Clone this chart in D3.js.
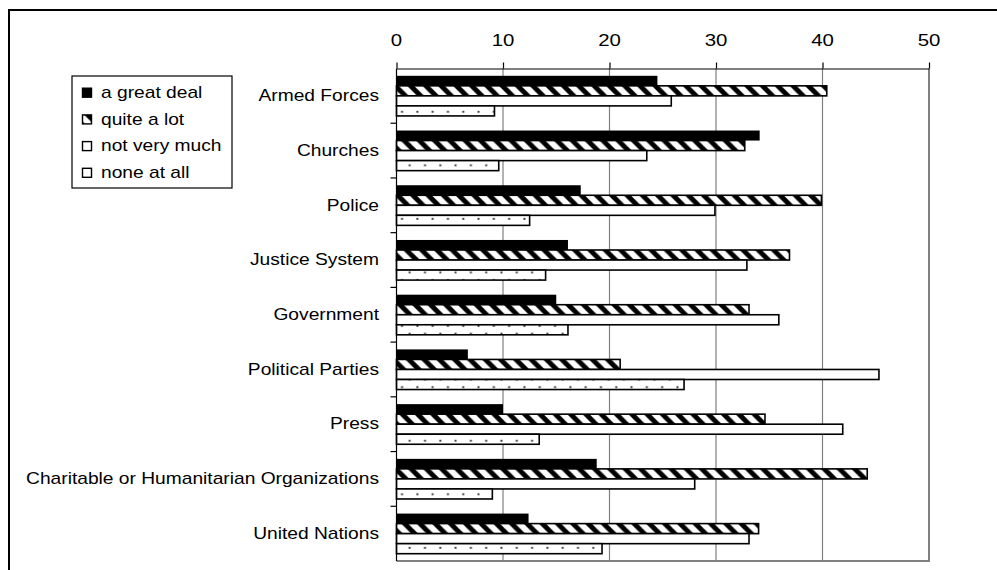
<!DOCTYPE html>
<html>
<head>
<meta charset="utf-8">
<script src="https://cdn.jsdelivr.net/npm/d3@7/dist/d3.min.js"></script>
<style>
  html, body { margin: 0; padding: 0; background: #fff; }
  svg { display: block; }
  text { font-family: Arial, "Liberation Sans", Helvetica, sans-serif; fill: #000; }
</style>
</head>
<body>
<svg id="chart" width="997" height="570"></svg>
<script>
const categories = ["Armed Forces", "Churches", "Police", "Justice System", "Government",
  "Political Parties", "Press", "Charitable or Humanitarian Organizations", "United Nations"];
const seriesNames = ["a great deal", "quite a lot", "not very much", "none at all"];
const greatDeal   = [24.5, 34.1, 17.3, 16.1, 15.0, 6.7, 10.0, 18.8, 12.4];
const quiteALot   = [40.4, 32.7, 39.9, 36.9, 33.1, 21.0, 34.6, 44.2, 34.0];
const notVeryMuch = [25.8, 23.5, 29.9, 32.9, 35.9, 45.3, 41.9, 28.0, 33.1];
const noneAtAll   = [9.2, 9.6, 12.5, 14.0, 16.1, 27.0, 13.4, 9.0, 19.3];
const tickValues  = [0, 10, 20, 30, 40, 50];

(function () {
const seriesValues = [greatDeal, quiteALot, notVeryMuch, noneAtAll];
const fills = ["#000", "url(#hatch)", "#fff", "url(#dots)"];

const svg = d3.select("#chart");
const TX = 1.2; // horizontal text stretch

// patterns
const defs = svg.append("defs");
const P = 15.3, W = 7;
const hatch = defs.append("pattern").attr("id", "hatch")
  .attr("patternUnits", "userSpaceOnUse").attr("width", P).attr("height", P);
hatch.append("rect").attr("width", P).attr("height", P).attr("fill", "#fff");
hatch.append("polygon").attr("points", `0,0 ${W},0 ${P},${P - W} ${P},${P}`).attr("fill", "#000");
hatch.append("polygon").attr("points", `0,${P - W} 0,${P} ${W},${P}`).attr("fill", "#000");

const dots = defs.append("pattern").attr("id", "dots")
  .attr("patternUnits", "userSpaceOnUse").attr("width", P).attr("height", P);
dots.append("rect").attr("width", P).attr("height", P).attr("fill", "#fff");
dots.append("rect").attr("x", 3.3).attr("y", 3.7).attr("width", 1.9).attr("height", 1.9).attr("fill", "#333");
dots.append("rect").attr("x", 3.3 + P / 2).attr("y", 3.7 + P / 2).attr("width", 1.9).attr("height", 1.9).attr("fill", "#333");

// outer frame
svg.append("rect").attr("x", 9).attr("y", 10).attr("width", 1100).attr("height", 700)
  .attr("fill", "none").attr("stroke", "#000").attr("stroke-width", 2);

// scales
const pLeft = 396.5, pRight = 929, pTop = 68.5, pBottom = 561;
const x = d3.scaleLinear().domain([0, 50]).range([pLeft, pRight]);
const y = d3.scaleBand().domain(categories).range([pTop, pBottom]);
const pad = 7.3;
const ys = d3.scaleBand().domain(seriesNames).range([pad, y.bandwidth() - pad]);

// gridlines
svg.append("g").selectAll("line").data(tickValues.slice(1)).join("line")
  .attr("x1", d => x(d)).attr("x2", d => x(d))
  .attr("y1", pTop).attr("y2", pBottom)
  .attr("stroke", "#808080").attr("stroke-width", d => d === 50 ? 2 : 1.2);
// bottom border
svg.append("line").attr("x1", pLeft).attr("x2", pRight + 1).attr("y1", pBottom).attr("y2", pBottom)
  .attr("stroke", "#808080").attr("stroke-width", 2);

// bars
const rows = [];
categories.forEach((c, i) => seriesValues.forEach((arr, s) => rows.push({ c, s, v: arr[i] })));
svg.append("g").selectAll("rect").data(rows).join("rect")
  .attr("x", x(0))
  .attr("y", d => y(d.c) + ys(seriesNames[d.s]))
  .attr("width", d => x(d.v) - x(0))
  .attr("height", ys.bandwidth())
  .attr("fill", d => fills[d.s])
  .attr("stroke", "#000")
  .attr("stroke-width", d => d.s === 0 ? 0 : 1.6);

// top axis
const axis = svg.append("g").attr("transform", `translate(0,${pTop})`)
  .call(d3.axisTop(x).tickValues(tickValues).tickSize(6).tickSizeOuter(0).tickPadding(2));
axis.select(".domain").attr("stroke", "#000").attr("stroke-width", 1.2);
axis.selectAll(".tick line").attr("stroke", "#000").attr("stroke-width", 1.2);
axis.selectAll(".tick text").remove();
svg.append("g").selectAll("text").data(tickValues).join("text")
  .attr("transform", d => `translate(${x(d)},46) scale(${TX},1)`)
  .attr("text-anchor", "middle").style("font-size", "17px")
  .text(d => d);

// left axis
svg.append("line").attr("x1", pLeft).attr("x2", pLeft).attr("y1", pTop).attr("y2", pBottom)
  .attr("stroke", "#000").attr("stroke-width", 1.2);
svg.append("g").selectAll("line").data(categories.slice(1)).join("line")
  .attr("x1", pLeft - 6).attr("x2", pLeft).attr("y1", d => y(d)).attr("y2", d => y(d))
  .attr("stroke", "#000").attr("stroke-width", 1.2);
svg.append("g").selectAll("text").data(categories).join("text")
  .attr("transform", d => `translate(379,${y(d) + y.bandwidth() / 2 + 5.2}) scale(${TX},1)`)
  .attr("text-anchor", "end").style("font-size", "16px")
  .text(d => d);

// legend
const lg = svg.append("g");
lg.append("rect").attr("x", 72).attr("y", 76).attr("width", 160).attr("height", 112)
  .attr("fill", "#fff").attr("stroke", "#000").attr("stroke-width", 1.2);
const rowY = [92.7, 119.4, 146.1, 172.8];
const items = lg.selectAll("g.item").data(seriesNames).join("g").attr("class", "item");
items.append("rect")
  .attr("x", 82.5).attr("y", (d, i) => rowY[i] - 4.5)
  .attr("width", 9).attr("height", 9)
  .attr("fill", (d, i) => fills[i]).attr("stroke", "#000").attr("stroke-width", 1.4);
items.append("text")
  .attr("transform", (d, i) => `translate(101,${rowY[i] + 5.3}) scale(${TX},1)`)
  .style("font-size", "16px")
  .text(d => d);
})();
</script>
</body>
</html>
